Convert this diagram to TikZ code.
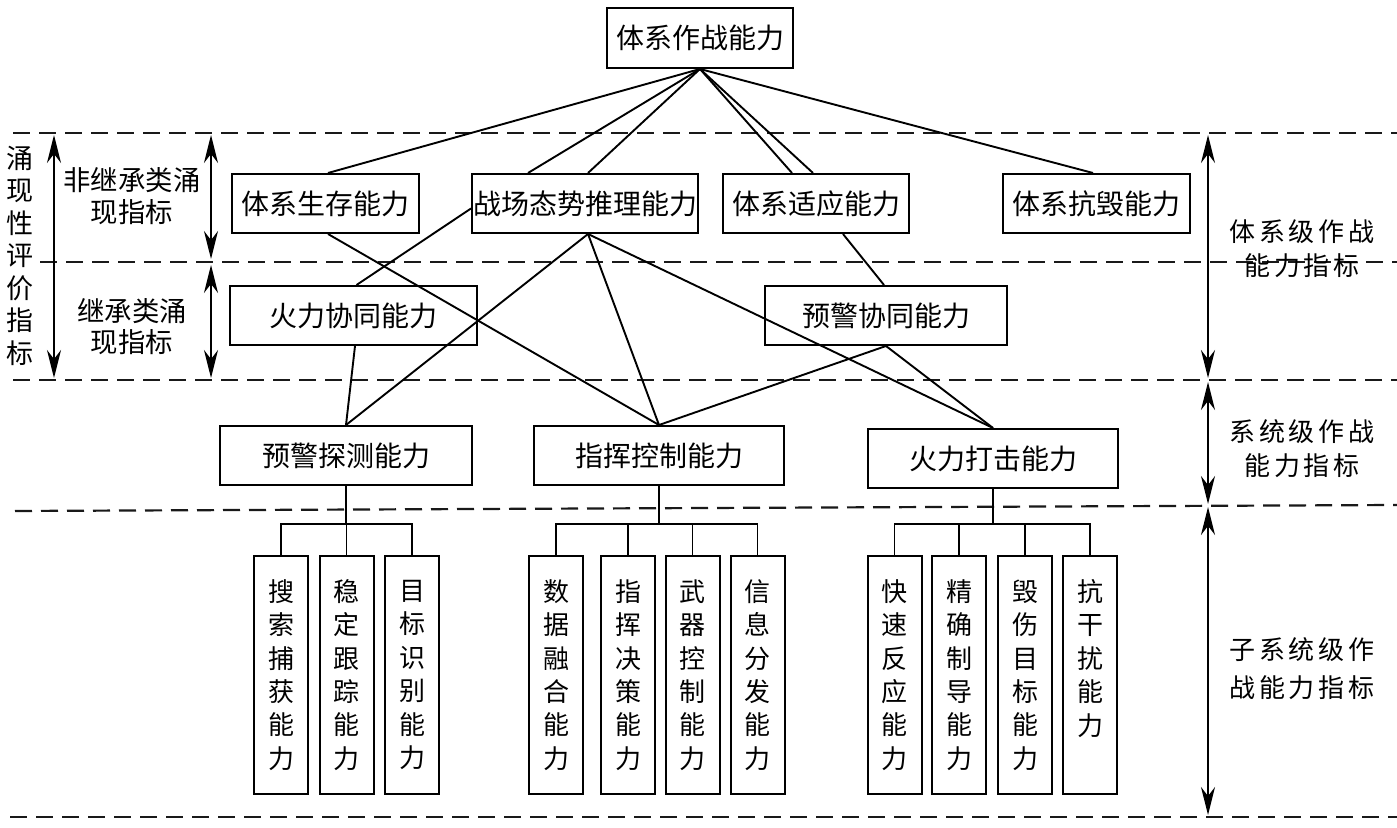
\documentclass[tikz,border=0pt]{standalone}
\usepackage{fontspec}
\setmainfont{Noto Sans CJK SC}
\newfontfamily\cjkls[LetterSpace=14]{Noto Sans CJK SC}
\usetikzlibrary{arrows.meta,calc}
\begin{document}
\begin{tikzpicture}[x=0.5pt,y=-0.5pt,
  box/.style={draw, line width=1pt, inner sep=0pt, minimum height=29.5pt, font=\fontsize{14}{16}\selectfont},
  leaf/.style={draw, line width=1pt, inner sep=0pt, minimum width=27pt, minimum height=119pt, align=center, font=\fontsize{13}{16.7}\selectfont},
  conn/.style={line width=0.95pt},
  dashline/.style={line width=1.1pt, dash pattern=on 8.5pt off 4.5pt, gray!20!black},
  dbl/.style={line width=1pt, {Stealth[length=14pt,width=7pt]}-{Stealth[length=14pt,width=7pt]}},
  lbl/.style={align=center, inner sep=0pt}
]
\path[use as bounding box] (0,0) rectangle (1397,828);

% dashed level separators
\draw[dashline] (13,133) -- (1397,133);
\draw[dashline] (40,262) -- (1397,262);
\draw[dashline] (13,380) -- (1397,380);
\draw[dashline] (15,511) -- (1397,505);
\draw[dashline] (10,817) -- (1397,817);

% main nodes
\node[box, minimum width=93pt, minimum height=30pt] (top) at (700,38) {体系作战能力};
\node[box, minimum width=93.5pt] (sc) at (325.5,203.5) {体系生存能力};
\node[box, minimum width=113pt] (zc) at (585,203.5) {战场态势推理能力};
\node[box, minimum width=93pt] (sy) at (816,203.5) {体系适应能力};
\node[box, minimum width=93.5pt] (kh) at (1096.5,203.5) {体系抗毁能力};
\node[box, minimum width=123.5pt] (hx) at (353.5,315.5) {火力协同能力};
\node[box, minimum width=121pt] (yx) at (886,315.5) {预警协同能力};
\node[box, minimum width=126pt] (yt) at (346,455.5) {预警探测能力};
\node[box, minimum width=125pt] (zh) at (659,455.5) {指挥控制能力};
\node[box, minimum width=125pt] (hd) at (993,458.5) {火力打击能力};

% top-level connectors
\draw[conn] (top.south) -- ($(sc.north)+(2.5,0)$);
\draw[conn] (top.south) -- ($(zc.north)+(-57,0)$);
\draw[conn] (top.south) -- ($(zc.north)+(3,0)$);
\draw[conn] (top.south) -- ($(sy.north)+(-24,0)$);
\draw[conn] (top.south) -- ($(sy.north)+(-3,0)$);
\draw[conn] (top.south) -- ($(kh.north)+(-3.5,0)$);

% cross-level connectors
\draw[conn] ($(sc.south)+(2.5,0)$) -- (zh.north);
\draw[conn] ($(zc.west)+(0,5)$) -- ($(hx.north)+(3,0)$);
\draw[conn] ($(zc.south)+(3,0)$) -- (yt.north);
\draw[conn] ($(zc.south)+(3,0)$) -- (zh.north);
\draw[conn] ($(zc.south)+(3,0)$) -- (hd.north);
\draw[conn] ($(sy.south)+(27,0)$) -- ($(yx.north)+(-2,0)$);
\draw[conn] ($(hx.south)+(1.5,0)$) -- (yt.north);
\draw[conn] (yx.south) -- (zh.north);
\draw[conn] (yx.south) -- (hd.north);

% leaf nodes
\node[leaf] (l11) at (281,675) {搜\\索\\捕\\获\\能\\力};
\node[leaf] (l12) at (346.5,675) {稳\\定\\跟\\踪\\能\\力};
\node[leaf] (l13) at (412,675) {目\\标\\识\\别\\能\\力};
\node[leaf] (l21) at (556,675) {数\\据\\融\\合\\能\\力};
\node[leaf] (l22) at (628,675) {指\\挥\\决\\策\\能\\力};
\node[leaf] (l23) at (692.5,675) {武\\器\\控\\制\\能\\力};
\node[leaf] (l24) at (757.5,675) {信\\息\\分\\发\\能\\力};
\node[leaf] (l31) at (894.5,675) {快\\速\\反\\应\\能\\力};
\node[leaf] (l32) at (959,675) {精\\确\\制\\导\\能\\力};
\node[leaf] (l33) at (1025,675) {毁\\伤\\目\\标\\能\\力};
\node[leaf] (l34) at (1090,675) {抗\\干\\扰\\能\\力\\\phantom{力}};

% tree connectors
\coordinate (bus1) at (346,524);
\coordinate (bus2) at (659,524);
\coordinate (bus3) at (993,524);
\draw[conn] (yt.south) -- (bus1);
\draw[conn] (zh.south) -- (bus2);
\draw[conn] (hd.south) -- (bus3);
\foreach \n in {l11,l12,l13} \draw[conn] (\n.north) |- (bus1);
\foreach \n in {l21,l22,l23,l24} \draw[conn] (\n.north) |- (bus2);
\foreach \n in {l31,l32,l33,l34} \draw[conn] (\n.north) |- (bus3);

% side labels
\node[lbl, font=\fontsize{13.5}{16.25}\selectfont] (lv) at (20,255.5) {涌\\现\\性\\评\\价\\指\\标};
\node[lbl, font=\fontsize{13.7}{16}\selectfont] (fj) at (132,196) {非继承类涌\\现指标};
\node[lbl, font=\fontsize{13.7}{15.5}\selectfont] (jc) at (132,327) {继承类涌\\现指标};
\node[lbl, font=\cjkls\fontsize{13}{17}\selectfont] (r1) at (1302,249) {体系级作战\\能力指标};
\node[lbl, font=\cjkls\fontsize{13}{17}\selectfont] (r2) at (1302,449) {系统级作战\\能力指标};
\node[lbl, font=\cjkls\fontsize{13}{19}\selectfont] (r3) at (1302,669) {子系统级作\\战能力指标};

% range arrows
\coordinate (a1s) at (54,135);  \coordinate (a1e) at (54,378);
\coordinate (a2s) at (211,135); \coordinate (a2e) at (211,259);
\coordinate (a3s) at (211,265); \coordinate (a3e) at (211,378);
\coordinate (a4s) at (1208,135); \coordinate (a4e) at (1208,378);
\coordinate (a5s) at (1208,382); \coordinate (a5e) at (1208,504);
\coordinate (a6s) at (1208,507); \coordinate (a6e) at (1208,815);
\draw[dbl] (a1s) -- (a1e);
\draw[dbl] (a2s) -- (a2e);
\draw[dbl] (a3s) -- (a3e);
\draw[dbl] (a4s) -- (a4e);
\draw[dbl] (a5s) -- (a5e);
\draw[dbl] (a6s) -- (a6e);
\end{tikzpicture}
\end{document}
